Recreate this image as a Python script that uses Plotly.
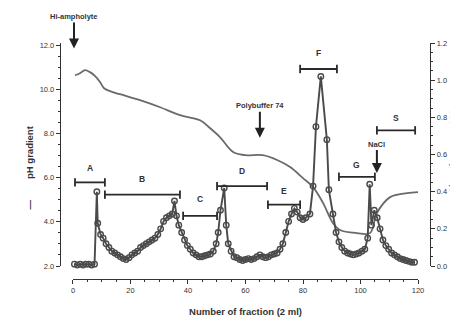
import plotly.graph_objects as go

# ---- data ----
abs_frac = [0.5, 1.5, 2.5, 3.5, 4.5, 5.5, 6.5, 7.5, 8.3, 8.6, 9.6, 10.5, 11.5, 12.5, 13.5, 14.5,
            15.5, 16.5, 17.5, 18.5, 19.5, 20.5, 21.5, 22.5, 23.5, 24.5, 25.5, 26.5, 27.5, 28.5,
            29.5, 30.5, 31.5, 32.5, 33.5, 34.5, 35.3, 36.0, 36.8, 37.8, 38.8, 39.8, 40.8, 41.8,
            42.8, 43.8, 44.8, 45.8, 46.8, 47.8, 48.8, 49.8, 50.5, 51.3, 52.6, 53.3, 54.0, 55.0,
            56.0, 57.0, 58.0, 59.0, 60.0, 61.0, 62.0, 63.0, 64.0, 65.0, 66.0, 67.0, 68.0, 69.0,
            70.0, 71.0, 72.0, 73.0, 74.0, 75.0, 76.0, 77.0, 78.0, 79.0, 80.0, 81.0, 82.4, 83.5,
            84.5, 86.2, 88.3, 89.0, 90.4, 91.5, 92.5, 93.5, 94.5, 95.5, 96.5, 97.5, 98.5, 99.5,
            100.5, 101.5, 102.5, 103.2, 103.8, 104.8, 105.8, 106.8, 107.8, 108.8, 109.8, 110.8,
            111.8, 112.8, 113.8, 114.8, 115.8, 116.8, 117.8, 118.8]
abs_val = [0.01, 0.005, 0.01, 0.005, 0.01, 0.01, 0.005, 0.01, 0.40, 0.23, 0.17, 0.15, 0.12, 0.10,
           0.08, 0.07, 0.06, 0.05, 0.04, 0.035, 0.045, 0.06, 0.07, 0.08, 0.10, 0.11, 0.12, 0.13,
           0.14, 0.15, 0.17, 0.20, 0.24, 0.26, 0.27, 0.28, 0.35, 0.27, 0.22, 0.18, 0.14, 0.11,
           0.09, 0.07, 0.06, 0.05, 0.05, 0.055, 0.06, 0.065, 0.08, 0.12, 0.18, 0.30, 0.42, 0.22,
           0.12, 0.08, 0.05, 0.045, 0.035, 0.03, 0.035, 0.04, 0.035, 0.04, 0.05, 0.06, 0.05,
           0.045, 0.05, 0.06, 0.065, 0.07, 0.09, 0.12, 0.18, 0.24, 0.28, 0.31, 0.29, 0.26, 0.25,
           0.26, 0.28, 0.43, 0.75, 1.02, 0.68, 0.41, 0.28, 0.18, 0.13, 0.10, 0.08, 0.07, 0.065,
           0.06, 0.065, 0.07, 0.08, 0.09, 0.15, 0.44, 0.22, 0.30, 0.26, 0.20, 0.14, 0.11, 0.09,
           0.07, 0.06, 0.05, 0.04, 0.035, 0.03, 0.025, 0.02, 0.02]

ph_frac = [0.7, 2.4, 4.2, 5.9, 7.7, 9.4, 10.8, 12.9, 16.3, 23.3, 30.3, 37.2, 44.2, 47.7, 51.1,
           55.7, 59.8, 66.0, 71.0, 75.5, 80.0, 83.5, 87.0, 90.4, 92.9, 98.8, 103.3, 105.7,
           110.3, 116.2, 120.0]
ph_val = [10.64, 10.73, 10.87, 10.78, 10.6, 10.33, 10.05, 9.92, 9.78, 9.51, 9.19, 8.83, 8.6, 8.24,
          7.84, 7.16, 7.02, 7.02, 6.8, 6.48, 5.98, 5.57, 4.85, 3.95, 3.63, 3.49, 3.49, 4.4,
          5.12, 5.3, 5.35]

seg_names = ["A", "B", "C", "D", "E", "F", "G", "S"]
seg_start = [0.7, 11.1, 38.3, 50.1, 67.8, 79.0, 92.5, 105.7]
seg_end = [11.1, 37.2, 50.1, 67.5, 79.0, 91.8, 105.0, 119.0]
seg_level = [0.45, 0.384, 0.27, 0.43, 0.33, 1.06, 0.48, 0.73]
seg_label_y = [0.53, 0.47, 0.36, 0.51, 0.405, 1.146, 0.546, 0.795]

x_ticks = [0, 20, 40, 60, 80, 100, 120]
ph_ticks = [2, 4, 6, 8, 10, 12]
abs_ticks = [0.0, 0.2, 0.4, 0.6, 0.8, 1.0, 1.2]

FONT = "Liberation Sans"
fig = go.Figure()

fig.add_trace(go.Scatter(x=ph_frac, y=ph_val, mode="lines", line=dict(color="#6a6a6a", width=1.8, shape="spline"),
                         yaxis="y", showlegend=False, cliponaxis=False))
fig.add_trace(go.Scatter(x=abs_frac, y=abs_val, mode="lines+markers", yaxis="y2",
                         line=dict(color="#4a4a4a", width=1.9),
                         marker=dict(symbol="circle-open", size=5.5, color="#4a4a4a", line=dict(width=1.4)),
                         showlegend=False, cliponaxis=False))

for n, s, e, lv, ly in zip(seg_names, seg_start, seg_end, seg_level, seg_label_y):
    fig.add_trace(go.Scatter(x=[s, e], y=[lv, lv], mode="lines+markers", yaxis="y2",
                             line=dict(color="#2a2a2a", width=1.8),
                             marker=dict(symbol="line-ns", size=6, line=dict(width=1.8, color="#2a2a2a")),
                             showlegend=False, cliponaxis=False))
    fig.add_annotation(x=(s + e) / 2, y=ly, xref="x", yref="y2", text="<b>" + n + "</b>", showarrow=False,
                       font=dict(family=FONT, size=8.5, color="#333333"))

arrow_common = dict(showarrow=True, arrowhead=2, arrowsize=1.0, arrowwidth=2.0, arrowcolor="#222222",
                    font=dict(family=FONT, size=7.5, color="#333333"), xref="x", ax=0)
fig.add_annotation(x=0.35, y=1.17, yref="y2", text="<b>Hi-ampholyte</b>", ay=-32, **arrow_common)
fig.add_annotation(x=65.0, y=0.69, yref="y2", text="<b>Polybuffer 74</b>", ay=-32, **arrow_common)
fig.add_annotation(x=105.7, y=0.50, yref="y2", text="<b>NaCl</b>", ay=-29, **arrow_common)

fig.add_annotation(x=-0.103, y=0.54, xref="paper", yref="paper", text="<b>pH gradient</b>",
                   textangle=-90, showarrow=False, font=dict(family=FONT, size=9.5, color="#333333"))
fig.add_annotation(x=-0.103, y=0.288, xref="paper", yref="paper", text="<b>—</b>",
                   textangle=-90, showarrow=False, font=dict(family=FONT, size=9.5, color="#333333"))
fig.add_annotation(x=1.079, y=0.576, xref="paper", yref="paper", text="<b>Absorbance at 280 nm</b>",
                   textangle=-90, showarrow=False, font=dict(family=FONT, size=9.5, color="#9a6a48"))

axis_font = dict(family=FONT, size=7.5, color="#333333")
fig.update_layout(
    width=450, height=316,
    margin=dict(l=52, r=28, t=35, b=45),
    paper_bgcolor="white", plot_bgcolor="white",
    xaxis=dict(range=[0, 120], domain=[0.0351, 0.9676], anchor="free", position=0, automargin=False,
               tickvals=x_ticks, ticks="outside", ticklen=4, tickwidth=1.2, tickcolor="#333",
               showline=True, linecolor="#333", linewidth=1.4, showgrid=False, zeroline=False,
               tickfont=axis_font,
               minor=dict(dtick=5, ticks="outside", ticklen=2, tickcolor="#333"),
               title=dict(text="<b>Number of fraction (2 ml)</b>", font=dict(family=FONT, size=9.5, color="#333"),
                          standoff=14)),
    yaxis=dict(range=[2, 12.1], domain=[0.055, 1], anchor="free", position=0, automargin=False,
               tickvals=ph_ticks, tickformat=".1f", ticks="outside", ticklen=4, tickwidth=1.2,
               tickcolor="#333", showline=True, linecolor="#333", linewidth=1.4, showgrid=False,
               zeroline=False, tickfont=axis_font,
               minor=dict(dtick=0.5, ticks="outside", ticklen=2, tickcolor="#333")),
    yaxis2=dict(range=[0, 1.2], domain=[0.055, 1], anchor="free", position=1, overlaying="y",
                automargin=False,
                side="right", tickvals=abs_ticks, tickformat=".1f", ticks="outside", ticklen=4,
                tickwidth=1.2, tickcolor="#333", showline=True, linecolor="#333", linewidth=1.4,
                showgrid=False, zeroline=False, tickfont=axis_font,
                minor=dict(dtick=0.05, ticks="outside", ticklen=2, tickcolor="#333")),
)

fig.write_html("out.html")
